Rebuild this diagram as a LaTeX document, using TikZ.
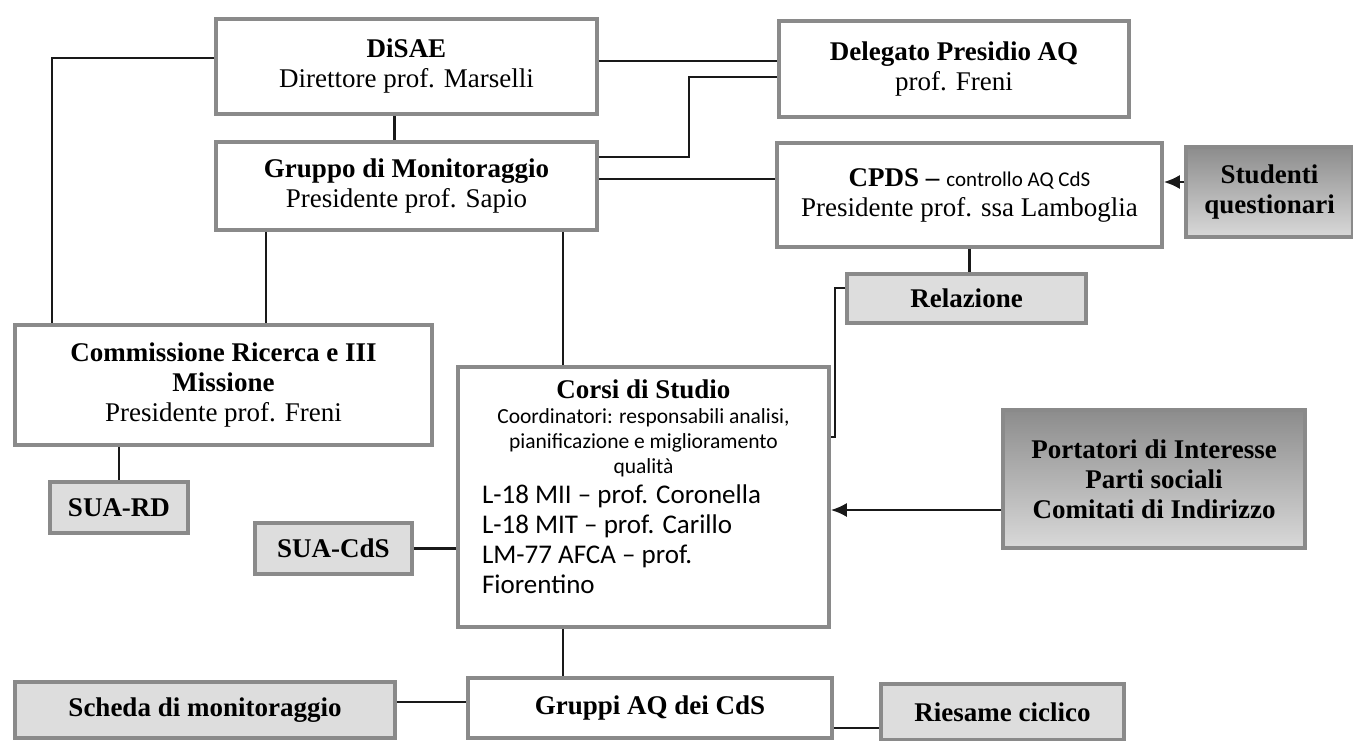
\documentclass[tikz,border=0pt]{standalone}
\usepackage{fontspec}
\setmainfont{Liberation Serif}
\newfontfamily\calfont{Carlito}
\usetikzlibrary{arrows.meta}
\definecolor{boxline}{HTML}{8A8A8A}
\definecolor{docfill}{HTML}{DDDDDD}
\newcommand\txt{\fontsize{27}{30}\selectfont}
\begin{document}
\begin{tikzpicture}[x=1pt,y=-1pt,>={Latex[length=16pt,width=14pt]},
    box/.style={draw=boxline,line width=3.5pt,fill=white,align=center,font=\txt,inner sep=2pt},
    doc/.style={box,fill=docfill,font=\txt\bfseries},
    ext/.style={box,top color=black!45,bottom color=black!15,font=\txt\bfseries},
    link/.style={line width=2.4pt,black!90}]
\useasboundingbox (0,0) rectangle (1353,740);
\node[box,minimum width=381pt,minimum height=95pt] (disae) at (406.5,66.5) {\textbf{DiSAE}\\Direttore prof. Marselli};
\node[box,minimum width=350pt,minimum height=96pt] (deleg) at (954,69) {\textbf{Delegato Presidio AQ}\\prof. Freni};
\node[box,minimum width=381pt,minimum height=88pt] (monit) at (406.5,186) {\textbf{Gruppo di Monitoraggio}\\Presidente prof. Sapio};
\node[box,minimum width=385pt,minimum height=104pt] (cpds) at (969.5,195) {\textbf{CPDS –} {\calfont\fontsize{21}{25}\selectfont controllo AQ CdS}\\Presidente prof. ssa Lamboglia};
\node[ext,minimum width=167pt,minimum height=90pt] (stud) at (1269.5,192) {Studenti\\questionari};
\node[doc,minimum width=239pt,minimum height=49pt] (rel) at (966.5,298.5) {Relazione};
\node[box,minimum width=417pt,minimum height=120pt] (comm) at (223.5,385) {\textbf{Commissione Ricerca e III}\\\textbf{Missione}\\Presidente prof. Freni};
\node[doc,minimum width=138pt,minimum height=51pt] (suard) at (119,507.5) {SUA-RD};
\node[doc,minimum width=157pt,minimum height=51pt] (suacds) at (333.5,548.5) {SUA-CdS};
\node[box,minimum width=371pt,minimum height=260pt] (corsi) at (643.5,497) {\parbox{323pt}{\centering\textbf{Corsi di Studio}\\{\calfont\fontsize{21.5}{25}\selectfont Coordinatori: responsabili analisi,\\pianificazione e miglioramento\\qualità\par}\raggedright\calfont\fontsize{27}{30}\selectfont L-18 MII – prof. Coronella\\L-18 MIT – prof. Carillo\\LM-77 AFCA – prof.\\Fiorentino\par\vspace{20pt}}};
\node[ext,minimum width=302pt,minimum height=138pt] (port) at (1154,479) {Portatori di Interesse\\Parti sociali\\Comitati di Indirizzo};
\node[doc,minimum width=380pt,minimum height=56pt] (scheda) at (205,710) {Scheda di monitoraggio};
\node[box,minimum width=364pt,minimum height=60pt,font=\txt\bfseries] (gruppiaq) at (650,708) {Gruppi AQ dei CdS};
\node[doc,minimum width=243pt,minimum height=56pt] (ries) at (1002.5,712) {Riesame ciclico};
\coordinate (dl) at ([yshift=8.5pt]disae.west);
\coordinate (cl) at ([xshift=39pt]comm.north west);
\coordinate (dr) at ([yshift=5.5pt]disae.east);
\coordinate (mr1) at ([yshift=29pt]monit.east);
\coordinate (mr2) at ([yshift=7pt]monit.east);
\coordinate (ml) at ([xshift=52pt]monit.south west);
\coordinate (mc) at ([xshift=349pt]monit.south west);
\coordinate (sl) at ([yshift=10pt]stud.west);
\coordinate (rl) at ([yshift=10.5pt]rel.west);
\coordinate (pl) at ([yshift=-31pt]port.west);
\coordinate (cs) at ([xshift=107pt]corsi.south west);
\coordinate (sr) at ([yshift=8pt]scheda.east);
\coordinate (gr) at ([yshift=-20pt]gruppiaq.east);
\draw[link] (dl) -| (cl);
\draw[link] ([xshift=-12pt]disae.south) -- ([xshift=-12pt]monit.north);
\draw[link] (dr) -- (dr -| deleg.west);
\draw[link] (mr1) -- ++(90,0) |- ([yshift=-8pt]deleg.west);
\draw[link] (mr2) -- (mr2 -| cpds.west);
\draw[link,->] (sl) -- (sl -| cpds.east);
\draw[link] (cpds.south) -- (cpds.south |- rel.north);
\draw[link] (rl) -- ++(-10,0) |- ([yshift=60pt]corsi.east);
\draw[link] (ml) -- (ml |- comm.north);
\draw[link] (mc) -- (mc |- corsi.north);
\draw[link] (comm.south -| suard.north) -- (suard.north);
\draw[link] (suacds.east) -- (suacds.east -| corsi.west);
\draw[link,->] (pl) -- (pl -| corsi.east);
\draw[link] (cs) -- (cs |- gruppiaq.north);
\draw[link] (sr) -- (sr -| gruppiaq.west);
\draw[link] (gr) -- (gr -| ries.west);
\end{tikzpicture}
\end{document}
